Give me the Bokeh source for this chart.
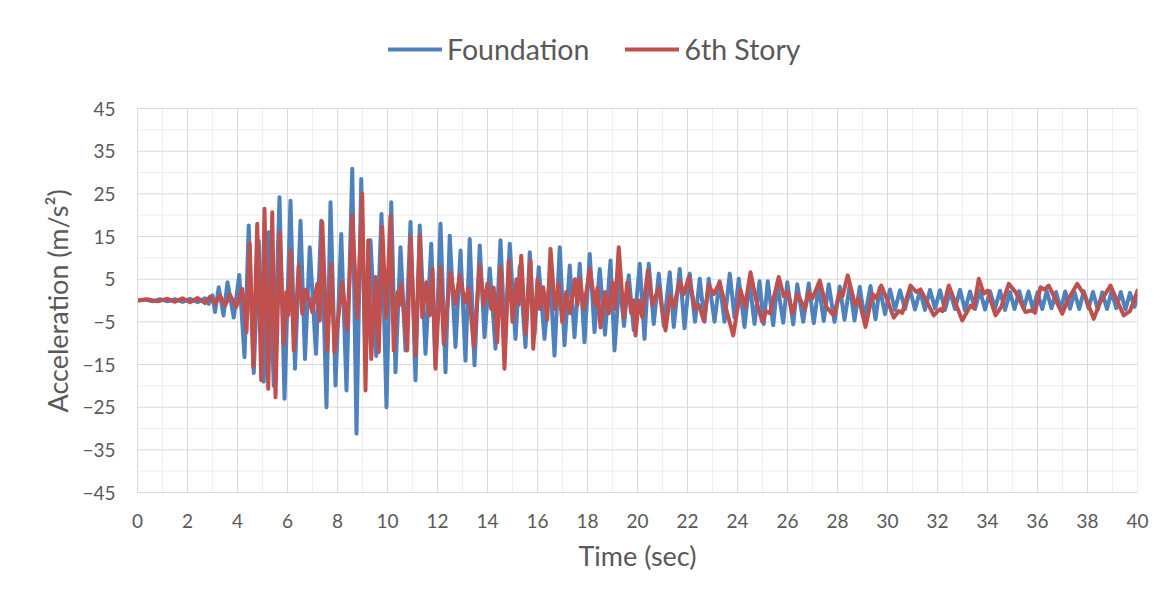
from bokeh.plotting import figure
from bokeh.models import FixedTicker, Legend, LegendItem, Range1d, Title
from bokeh.embed import file_html
from bokeh.resources import INLINE

# Ground-motion record: acceleration extrema (time in s, acceleration in m/s^2)
foundation_t = [
    0.0, 0.3, 0.6, 0.9, 1.2, 1.5, 1.8, 2.1, 2.4, 2.7, 2.85, 3.0, 3.1, 3.25, 3.44, 3.6,
    3.85, 4.07, 4.28, 4.45, 4.65, 4.85, 5.05, 5.25, 5.45, 5.68, 5.88, 6.12, 6.3, 6.52,
    6.7, 6.89, 7.14, 7.35, 7.56, 7.72, 7.92, 8.15, 8.36, 8.59, 8.76, 8.95, 9.12, 9.32,
    9.55, 9.76, 9.96, 10.15, 10.32, 10.52, 10.72, 10.92, 11.12, 11.29, 11.52, 11.75,
    11.92, 12.12, 12.32, 12.49, 12.72, 12.92, 13.12, 13.29, 13.48, 13.69, 13.88, 14.09,
    14.32, 14.52, 14.7, 14.89, 15.12, 15.29, 15.52, 15.69, 15.88, 16.05, 16.28, 16.5,
    16.68, 16.89, 17.08, 17.29, 17.48, 17.69, 17.88, 18.09, 18.28, 18.49, 18.7, 18.92,
    19.08, 19.28, 19.46, 19.65, 19.85, 20.09, 20.28, 20.45, 20.65, 20.85, 21.05, 21.29,
    21.45, 21.69, 21.88, 22.09, 22.3, 22.49, 22.68, 22.85, 23.08, 23.28, 23.48, 23.69,
    23.88, 24.05, 24.28, 24.48, 24.68, 24.88, 25.05, 25.21, 25.43, 25.59, 25.83, 25.99,
    26.23, 26.39, 26.63, 26.85, 27.05, 27.25, 27.45, 27.65, 27.88, 28.09, 28.28, 28.49,
    28.68, 28.89, 29.08, 29.32, 29.52, 29.69, 29.9, 30.1, 30.3, 30.5, 30.7, 30.9, 31.1,
    31.3, 31.5, 31.7, 31.9, 32.1, 32.3, 32.5, 32.7, 32.9, 33.1, 33.3, 33.5, 33.7, 33.9,
    34.1, 34.3, 34.5, 34.7, 34.9, 35.08, 35.27, 35.45, 35.64, 35.82, 36.0, 36.19, 36.37,
    36.56, 36.74, 36.93, 37.11, 37.3, 37.48, 37.67, 37.85, 38.04, 38.22, 38.41, 38.59,
    38.78, 38.96, 39.15, 39.33, 39.52, 39.7, 39.88, 40.0,
]
foundation_a = [
    0.0, 0.2, -0.2, 0.3, -0.2, 0.3, -0.3, 0.4, -0.4, 0.5, -0.8, 1.2, -2.7, 3.1, -3.5, 4.3,
    -4.0, 6.0, -13.3, 17.6, -17.0, 14.0, -19.0, 16.0, -20.0, 24.2, -23.0, 23.4, -16.0, 18.7,
    -13.7, 12.5, -12.5, 18.7, -25.0, 23.0, -19.9, 15.6, -21.1, 30.9, -31.2, 28.5, -14.8, 14.1,
    -13.0, 20.3, -25.0, 23.0, -16.8, 12.5, -11.7, 18.4, -18.7, 17.6, -12.5, 13.3,
    -15.5, 18.0, -16.8, 15.2, -10.9, 11.7, -14.1, 14.4, -15.2, 12.9, -8.6, 7.5,
    -11.3, 14.1, -10.0, 13.3, -9.0, 8.0, -10.9, 11.3, -8.0, 7.8, -9.0, 6.0,
    -12.9, 12.5, -10.5, 8.2, -8.6, 8.6, -9.8, 10.9, -7.4, 7.4, -8.0, 9.4,
    -11.7, 5.0, -6.0, 5.9, -7.0, 8.6, -9.0, 8.6, -5.5, 6.3, -6.0, 6.6,
    -6.2, 7.4, -6.5, 6.3, -5.0, 5.1, -5.0, 5.1, -5.0, 4.5, -5.0, 6.3,
    -4.0, 5.1, -6.2, 4.5, -5.5, 4.5, -5.5, 4.5, -5.8, 4.0, -5.2, 4.3,
    -5.6, 3.8, -5.0, 4.0, -5.3, 3.5, -4.8, 3.8, -5.0, 3.3, -4.5, 3.6,
    -4.7, 3.2, -4.2, 3.4, -4.4, 3.0, -3.2, 2.6, -2.2, 2.4, -2.0, 2.6, -2.1,
    2.3, -2.2, 2.5, -1.9, 2.4, -2.2, 2.2, -2.0, 2.5, -2.3, 2.1, -2.0, 2.4, -2.1,
    2.2, -1.9, 2.3, -2.2, 2.0, -2.0, 2.2, -1.9, 2.1, -2.1, 1.9, -2.0, 2.2,
    -1.8, 2.0, -2.1, 2.1, -1.9, 1.9, -2.0, 2.2, -1.8, 2.0, -2.1, 1.9,
    -2.0, 2.1, -1.8, 2.0, -2.1, 1.8, -1.5, 1.0,
]

story6_t = [
    0.0, 0.4, 0.8, 1.2, 1.5, 1.8, 2.1, 2.4, 2.7, 2.9, 3.1, 3.3, 3.5, 3.7, 3.95, 4.19,
    4.36, 4.49, 4.63, 4.79, 4.95, 5.08, 5.23, 5.39, 5.52, 5.69, 5.85, 5.95, 6.03, 6.12,
    6.25, 6.45, 6.59, 6.72, 6.85, 6.99, 7.19, 7.29, 7.39, 7.59, 7.75, 7.88, 8.19, 8.39,
    8.59, 8.79, 8.99, 9.12, 9.23, 9.35, 9.52, 9.65, 9.79, 9.95, 10.12, 10.25, 10.4, 10.48,
    10.55, 10.79, 10.92, 11.12, 11.29, 11.39, 11.55, 11.69, 11.8, 11.92, 12.12, 12.25,
    12.52, 12.72, 12.89, 13.1, 13.25, 13.45, 13.69, 13.85, 14.0, 14.15, 14.25, 14.39,
    14.52, 14.68, 14.85, 15.0, 15.16, 15.25, 15.35, 15.52, 15.72, 15.83, 16.0, 16.1,
    16.23, 16.39, 16.52, 16.7, 16.85, 16.99, 17.15, 17.3, 17.5, 17.6, 17.69, 17.85,
    18.09, 18.3, 18.4, 18.52, 18.7, 18.85, 19.0, 19.1, 19.25, 19.45, 19.59, 19.75,
    19.85, 19.92, 20.05, 20.19, 20.41, 20.6, 20.85, 21.12, 21.3, 21.45, 21.69, 21.85,
    22.05, 22.3, 22.45, 22.65, 22.85, 23.05, 23.29, 23.5, 23.83, 24.12, 24.3, 24.52,
    24.75, 24.99, 25.15, 25.3, 25.65, 25.85, 26.0, 26.2, 26.4, 26.7, 26.85, 27.0,
    27.29, 27.55, 27.85, 28.1, 28.2, 28.41, 28.7, 28.85, 29.12, 29.4, 29.55, 29.75,
    30.0, 30.25, 30.45, 30.59, 30.92, 31.15, 31.32, 31.85, 32.1, 32.2, 32.45, 32.99,
    33.32, 33.45, 33.65, 33.85, 34.0, 34.32, 34.55, 34.85, 35.12, 35.52, 35.79, 35.9,
    36.12, 36.28, 36.45, 36.99, 37.2, 37.59, 37.92, 38.25, 38.5, 38.92, 39.12, 39.45,
    39.7, 40.0,
]
story6_a = [
    0.0, 0.3, -0.2, 0.4, -0.3, 0.5, -0.4, 0.6, -0.6, 0.9, -0.8, 1.2, -1.2, 1.3, -1.5, 2.7,
    -7.4, 13.3, -15.6, 18.0, -18.7, 21.5, -20.7, 20.7, -22.7, 16.0, -10.2, 2.0, -3.5, 11.7,
    -11.7, 8.2, -3.1, 2.5, 0.5, -2.7, 3.9, -4.7, 18.4, -11.7, 8.6, -12.1, 4.3, -7.0,
    19.9, -4.0, 25.0, -21.1, 14.1, -13.7, 5.5, -12.1, 17.2, -4.0, 19.9, -11.7, 2.0, -1.0,
    3.9, -11.7, 14.8, -12.9, 15.2, -3.9, 4.3, -3.5, 7.4, -16.0, 7.8, -10.2,
    6.6, -0.8, 5.9, -0.5, 3.0, -10.9, 8.2, -1.0, 4.0, -2.0, 3.0, -9.8,
    7.8, -16.0, 9.4, -5.0, 5.0, -1.0, 10.5, -7.8, 9.4, -11.3, 5.0, -2.0,
    3.1, -4.5, 12.1, -2.0, 4.0, -5.1, 2.0, -3.0, 5.0, -1.0, 5.1, -2.0,
    7.4, -1.0, 3.0, -6.3, 2.0, -3.0, 4.3, -2.0, 12.5, -4.0, 4.3, -3.0,
    0.0, -8.2, 0.0, -3.9, 7.0, -1.0, 3.0, -7.0, 1.0, -1.5, 4.5, 1.5,
    5.5, -2.0, -1.0, -4.7, 3.5, 1.5, 4.3, -1.0, -8.2, 2.5, -1.5, 6.6,
    0.0, -5.0, -2.5, -3.0, 5.5, 1.0, 2.0, -3.0, 1.5, -2.0, 2.0, 0.5,
    4.7, -1.5, -3.5, 2.0, 1.0, 5.9, -1.0, 0.5, -6.2, 1.5, 0.5, 3.5,
    0.0, -4.0, -2.5, -2.9, 3.5, 2.0, 2.6, -3.5, -2.0, -2.5, 3.5, -4.7,
    -1.2, -1.8, 5.1, 1.6, 2.3, -3.5, -1.5, 3.9, 2.0, -2.7, -2.3, -2.9,
    3.1, 2.6, 3.5, -3.1, 0.0, 3.9, 0.8, -4.3, -0.5, 3.5, 0.8, -3.5,
    -2.5, 2.3,
]

x_ticks = list(range(0, 41, 2))
x_minor = [t for t in range(0, 41) if t % 2]
y_ticks = list(range(-45, 46, 10))
y_minor = list(range(-40, 41, 10))

FONT = "Lato"
TEXT = "#595959"
BLUE = "#4F81BD"
RED = "#C0504D"
GRID_MAJOR = "#d9d9d9"
GRID_MINOR = "#eeeeee"

x_lo, x_hi = x_ticks[0], x_ticks[-1]
y_lo, y_hi = y_ticks[0], y_ticks[-1]

# The frame reaches up to the top of the canvas so the legend sits inside it;
# the value axis keeps its -45..45 extent (384 px) and the headroom holds the legend.
FRAME_TOP, FRAME_BOTTOM, PLOT_PX = 8, 492, 384
y_top = y_lo + (y_hi - y_lo) * (FRAME_BOTTOM - FRAME_TOP) / PLOT_PX

p = figure(
    width=1170, height=608, output_backend="svg", toolbar_location=None,
    x_range=Range1d(x_lo, x_hi), y_range=Range1d(y_lo, y_top),
    min_border_left=137, min_border_right=33, min_border_top=FRAME_TOP,
    min_border_bottom=608 - FRAME_BOTTOM,
    background_fill_color="white", border_fill_color="white",
)
p.outline_line_color = None
p.grid.visible = False
# thin frame around the whole chart
p.styles = {"outline": "1px solid #d9d9d9", "outline-offset": "-4px"}

# gridlines limited to the value range
p.segment(x0=x_minor, x1=x_minor, y0=[y_lo] * len(x_minor), y1=[y_hi] * len(x_minor),
          line_color=GRID_MINOR, line_width=1)
p.segment(x0=[x_lo] * len(y_minor), x1=[x_hi] * len(y_minor), y0=y_minor, y1=y_minor,
          line_color=GRID_MINOR, line_width=1)
p.segment(x0=x_ticks, x1=x_ticks, y0=[y_lo] * len(x_ticks), y1=[y_hi] * len(x_ticks),
          line_color=GRID_MAJOR, line_width=1)
p.segment(x0=[x_lo] * len(y_ticks), x1=[x_hi] * len(y_ticks), y0=y_ticks, y1=y_ticks,
          line_color=GRID_MAJOR, line_width=1)

r_found = p.line(foundation_t, foundation_a, line_color=BLUE, line_width=4,
                 line_join="round", line_cap="round")
r_story = p.line(story6_t, story6_a, line_color=RED, line_width=4,
                 line_join="round", line_cap="round")

# axes
p.xaxis.ticker = FixedTicker(ticks=x_ticks)
p.yaxis.ticker = FixedTicker(ticks=y_ticks)
p.yaxis.bounds = (y_lo, y_hi)
for ax in (p.xaxis[0], p.yaxis[0]):
    ax.major_tick_line_color = None
    ax.minor_tick_line_color = None
    ax.major_tick_out = 0
    ax.major_tick_in = 0
    ax.minor_tick_out = 0
    ax.minor_tick_in = 0
    ax.axis_line_color = GRID_MAJOR
    ax.major_label_text_font = FONT
    ax.major_label_text_font_size = "19px"
    ax.major_label_text_color = TEXT
    ax.axis_label_text_font = FONT
    ax.axis_label_text_font_size = "27px"
    ax.axis_label_text_font_style = "normal"
    ax.axis_label_text_color = TEXT

p.xaxis.major_label_standoff = 21
p.yaxis.major_label_standoff = 22
p.xaxis.axis_label = "Time (sec)"
p.xaxis.axis_label_standoff = 8

# value-axis title, placed along the -45..45 part of the axis
p.add_layout(Title(text="Acceleration (m/s²)", align="left", offset=80,
                   text_font=FONT, text_font_size="27px", text_font_style="normal",
                   text_color=TEXT, standoff=12), "left")

# legend in the headroom above the value range
legend = Legend(
    items=[LegendItem(label="Foundation", renderers=[r_found]),
           LegendItem(label="6th Story", renderers=[r_story])],
    orientation="horizontal", location=(251, 426),
    padding=0, margin=0, spacing=36, glyph_width=54, glyph_height=20,
    label_standoff=5, label_text_font=FONT, label_text_font_size="28.5px",
    label_text_color=TEXT, border_line_color=None, background_fill_alpha=0,
)
p.add_layout(legend)

open("out.html", "w").write(file_html(p, INLINE))
